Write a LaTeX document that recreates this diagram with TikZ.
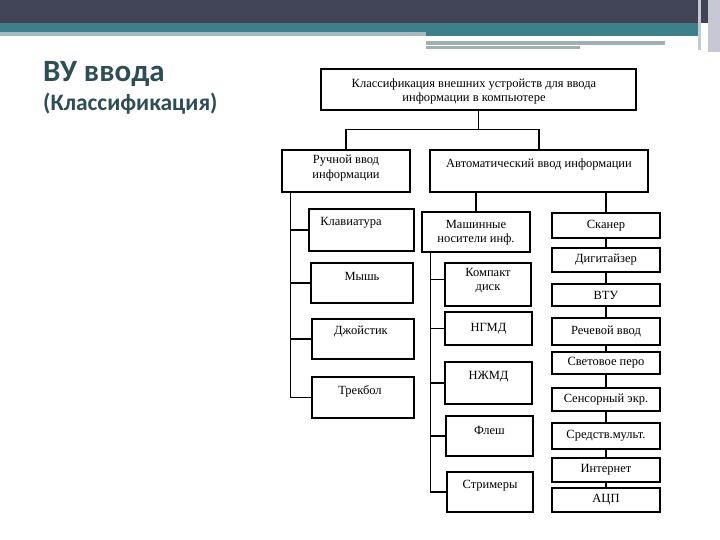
\documentclass[tikz,border=0pt]{standalone}
\usepackage{fontspec}
\setmainfont{Liberation Serif}
\newfontfamily\titlefont{Carlito}
\usetikzlibrary{calc}
\definecolor{hdark}{RGB}{64,68,86}
\definecolor{hteal}{RGB}{62,128,138}
\definecolor{hlight}{RGB}{165,185,190}
\definecolor{hgray}{RGB}{160,176,178}
\definecolor{hedge}{RGB}{200,200,212}
\definecolor{titlecol}{RGB}{47,77,87}
\begin{document}
\begin{tikzpicture}[x=1pt,y=-1pt,
  box/.style={draw, line width=1.1pt, inner sep=0pt, align=center, font=\fontsize{12.5}{14}\selectfont},
  lbl/.style={inner sep=0pt, align=center, font=\fontsize{12.5}{14}\selectfont},
  conn/.style={line width=1.1pt}]
\useasboundingbox (0,0) rectangle (720,540);
% header
\fill[hdark] (0,0) rectangle (720,23);
\fill[hteal] (0,23) rectangle (698,32);
\fill[hlight] (0,32) rectangle (426,36);
\fill[hteal] (426,32) rectangle (698,36);
\fill[hgray] (426,41) rectangle (665,45);
\fill[hgray] (426,46) rectangle (580,49);
\fill[hedge] (698,0) rectangle (701,50);
\fill[hedge] (708,0) rectangle (720,52);
% title
\node[anchor=base west, inner sep=0pt, text=titlecol, font=\titlefont\bfseries\fontsize{31}{33}\selectfont] (title) at (43,82) {ВУ ввода};
\node[anchor=base west, inner sep=0pt, text=titlecol, font=\titlefont\bfseries\fontsize{23.5}{25}\selectfont] (subtitle) at (43,111) {(Классификация)};
% top level
\node[box, minimum width=315pt, minimum height=41pt] (top) at (478.5,89.5) {};
\node[lbl] (topt) at (474,91) {Классификация внешних устройств для ввода\\информации в компьютере};
\node[box, minimum width=128pt, minimum height=42pt] (manual) at (346,171) {};
\node[lbl] (manualt) at (346,168.5) {Ручной ввод\\[1pt]информации};
\node[box, minimum width=218pt, minimum height=42pt] (auto) at (539,171) {};
\node[lbl] (autot) at (539,164) {Автоматический ввод информации};
\draw[conn] (top.south) -- ++(0,19) coordinate (j);
\draw[conn] (manual.north) -- (manual.north |- j) -- (auto.north |- j) -- (auto.north);
% left column
\node[box, minimum width=105pt, minimum height=42pt] (kb) at (361.5,230) {};
\node[lbl] (kbt) at (351,223) {Клавиатура};
\node[box, minimum width=102pt, minimum height=40pt] (mouse) at (362,283) {};
\node[lbl] (mouset) at (362,276) {Мышь};
\node[box, minimum width=102pt, minimum height=40pt] (joy) at (363,339) {};
\node[lbl] (joyt) at (361,332) {Джойстик};
\node[box, minimum width=102pt, minimum height=41pt] (track) at (363,397.5) {};
\node[lbl] (trackt) at (360,391) {Трекбол};
\coordinate (ls) at ($(manual.south west)+(9,0)$);
\draw[conn] (ls) -- (ls |- track.west) -- (track.west);
\draw[conn] (ls |- kb.west) -- (kb.west);
\draw[conn] (ls |- mouse.west) -- (mouse.west);
\draw[conn] (ls |- joy.west) -- (joy.west);
% middle column
\node[box, minimum width=108pt, minimum height=40pt] (mach) at (476,232) {};
\node[lbl] (macht) at (476,233) {Машинные\\носители инф.};
\draw[conn] (auto.south -| mach.north) -- (mach.north);
\node[box, minimum width=86pt, minimum height=43pt] (cd) at (488,284.5) {};
\node[lbl] (cdt) at (488,280.5) {Компакт\\диск};
\node[box, minimum width=87pt, minimum height=33pt] (ngmd) at (488.5,328.5) {};
\node[lbl] (ngmdt) at (488.5,329) {НГМД};
\node[box, minimum width=87pt, minimum height=42pt] (nzmd) at (488.5,383) {};
\node[lbl] (nzmdt) at (488.5,377) {НЖМД};
\node[box, minimum width=87pt, minimum height=40pt] (flash) at (489.5,436) {};
\node[lbl] (flasht) at (489.5,430) {Флеш};
\node[box, minimum width=86pt, minimum height=40pt] (strm) at (490,492) {};
\node[lbl] (strmt) at (490,486) {Стримеры};
\coordinate (ms) at ($(mach.south west)+(9,0)$);
\draw[conn] (ms) -- (ms |- strm.west) -- (strm.west);
\draw[conn] ($(ms |- cd.west)+(0,-5)$) -- ($(cd.west)+(0,-5)$);
\draw[conn] (ms |- ngmd.west) -- (ngmd.west);
\draw[conn] (ms |- nzmd.west) -- (nzmd.west);
\draw[conn] (ms |- flash.west) -- (flash.west);
% right column
\node[box, minimum width=108pt, minimum height=25pt] (scan) at (606,225.5) {Сканер};
\node[box, minimum width=108pt, minimum height=24pt] (dig) at (606,260) {Дигитайзер};
\node[box, minimum width=108pt, minimum height=22pt] (vtu) at (606,295) {ВТУ};
\node[box, minimum width=108pt, minimum height=27pt] (speech) at (606,331.5) {Речевой ввод};
\node[box, minimum width=108pt, minimum height=22pt] (pen) at (606,363) {Световое перо};
\node[box, minimum width=108pt, minimum height=23pt] (sens) at (606,399.5) {Сенсорный экр.};
\node[box, minimum width=108pt, minimum height=26pt] (mult) at (606,436) {Средств.мульт.};
\node[box, minimum width=108pt, minimum height=24pt] (inet) at (606,470) {Интернет};
\node[box, minimum width=108pt, minimum height=24pt] (app) at (606,500) {АЦП};
\draw[conn] (auto.south -| scan.north) -- (scan.north);
\draw[conn] (scan.south) -- (dig.north);
\draw[conn] (dig.south) -- (vtu.north);
\draw[conn] (vtu.south) -- (speech.north);
\draw[conn] (speech.south) -- (pen.north);
\draw[conn] (pen.south) -- (sens.north);
\draw[conn] (sens.south) -- (mult.north);
\draw[conn] (mult.south) -- (inet.north);
\draw[conn] (inet.south) -- (app.north);
\end{tikzpicture}
\end{document}
